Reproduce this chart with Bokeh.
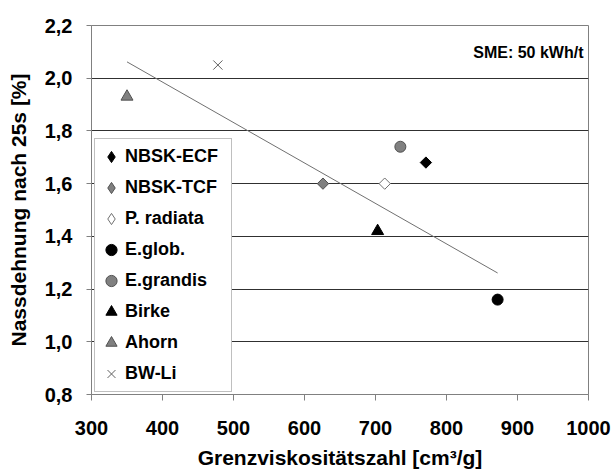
import math
from bokeh.plotting import figure
from bokeh.models import (Range1d, FixedTicker, CustomJSTickFormatter, Legend,
                          LegendItem, Label)
from bokeh.embed import file_html
from bokeh.resources import INLINE

# ---------------- data ----------------
series = ["NBSK-ECF", "NBSK-TCF", "P. radiata", "E.glob.", "E.grandis",
          "Birke", "Ahorn", "BW-Li"]
x_values = [771, 626, 713, 872, 735, 703, 350, 478]
y_values = [1.68, 1.60, 1.60, 1.16, 1.74, 1.42, 1.93, 2.05]
trend_x = [350, 872]
trend_y = [2.062, 1.261]
x_ticks = [300, 400, 500, 600, 700, 800, 900, 1000]
y_ticks = [0.8, 1.0, 1.2, 1.4, 1.6, 1.8, 2.0, 2.2]
x_title = "Grenzviskositätszahl [cm³/g]"
y_title = "Nassdehnung nach 25s [%]"
note = "SME: 50 kWh/t"

# ---------------- styles ----------------
DIAMOND = dict(marker="square", angle=math.pi / 4, size=8)
styles = [
    dict(DIAMOND, fill="black", line="black"),
    dict(DIAMOND, fill="#808080", line="#505050"),
    dict(DIAMOND, fill="white", line="#707070"),
    dict(marker="circle", size=11, fill="black", line="black"),
    dict(marker="circle", size=11, fill="#808080", line="#505050"),
    dict(marker="triangle", size=12, fill="black", line="black"),
    dict(marker="triangle", size=12, fill="#808080", line="#505050"),
    dict(marker="x", size=13, fill=None, line="#606060"),
]

FONT = "Liberation Sans"
NAN = float("nan")

p = figure(width=613, height=473, output_backend="svg", toolbar_location=None,
           x_range=Range1d(x_ticks[0], x_ticks[-1]),
           y_range=Range1d(y_ticks[0], y_ticks[-1]),
           min_border_left=91, min_border_right=25,
           min_border_top=25, min_border_bottom=79)
p.background_fill_color = "white"
p.border_fill_color = "white"
p.outline_line_color = "#808080"
p.xgrid.visible = False
p.ygrid.grid_line_color = "#303030"
p.ygrid.grid_line_width = 1

# trend line
p.line(trend_x, trend_y, line_color="#707070", line_width=1)

items = []
for name, xv, yv, st in zip(series, x_values, y_values, styles):
    kw = dict(marker=st["marker"], size=st["size"], line_color=st["line"],
              line_width=1)
    if st["fill"] is None:
        kw["fill_alpha"] = 0
    else:
        kw["fill_color"] = st["fill"]
    if "angle" in st:
        r = p.scatter(x=[xv], y=[yv], angle=st["angle"], **kw)
        # legend glyph (the legend ignores a marker's angle)
        kw2 = dict(kw)
        kw2["marker"] = "diamond"
        lr = p.scatter(x=[NAN], y=[NAN], **kw2)
        items.append(LegendItem(label=name, renderers=[lr]))
    else:
        r = p.scatter(x=[xv], y=[yv], **kw)
        items.append(LegendItem(label=name, renderers=[r]))

legend = Legend(items=items, location=(3, 2), padding=2, spacing=0,
                glyph_width=28, glyph_height=31, label_height=31,
                label_standoff=0, label_width=104, margin=0,
                label_text_font=FONT, label_text_font_style="bold",
                label_text_font_size="18px", label_text_color="black",
                border_line_color="#808080", border_line_width=1,
                background_fill_color="white", background_fill_alpha=1)
p.add_layout(legend)

# axes
for ax in (p.xaxis[0], p.yaxis[0]):
    ax.axis_line_color = "#808080"
    ax.major_tick_line_color = "#808080"
    ax.minor_tick_line_color = None
    ax.major_tick_in = 0
    ax.major_label_text_font = FONT
    ax.major_label_text_font_style = "bold"
    ax.major_label_text_font_size = "20px"
    ax.major_label_text_color = "black"
    ax.axis_label_text_font = FONT
    ax.axis_label_text_font_style = "bold"
    ax.axis_label_text_font_size = "21px"
    ax.axis_label_text_color = "black"

p.xaxis.ticker = FixedTicker(ticks=x_ticks)
p.xaxis.major_tick_out = 6
p.xaxis.major_label_standoff = 20
p.xaxis.axis_label = x_title
p.xaxis.axis_label_standoff = 8

p.yaxis.ticker = FixedTicker(ticks=y_ticks)
p.yaxis.formatter = CustomJSTickFormatter(code="return tick.toFixed(1).replace('.', ',');")
p.yaxis.major_tick_out = 5
p.yaxis.major_label_standoff = 14
p.yaxis.axis_label = y_title
p.yaxis.axis_label_standoff = 12

p.add_layout(Label(x=x_ticks[-1], y=y_ticks[-1], x_offset=-5, y_offset=-27,
                   text=note, text_align="right", text_baseline="middle",
                   text_font=FONT, text_font_style="bold",
                   text_font_size="16px", text_color="black"))

open("out.html", "w").write(file_html(p, INLINE))
